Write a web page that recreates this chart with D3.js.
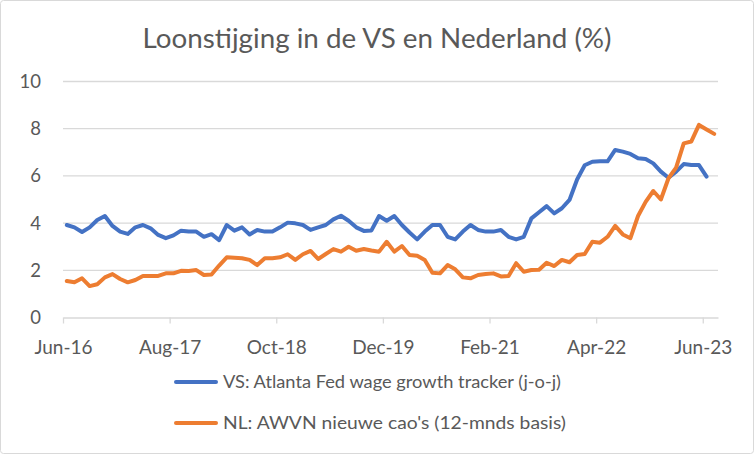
<!DOCTYPE html>
<html><head><meta charset="utf-8">
<script src="https://cdn.jsdelivr.net/npm/d3@7/dist/d3.min.js"></script>
<style>
html,body{margin:0;padding:0;background:#fff;}
svg{display:block;font-family:Lato,"Open Sans",sans-serif;}
</style></head>
<body>
<svg id="c" width="754" height="454"></svg>
<script>
// Months from Jun-16 (index 0)
const tickMonths = [0, 14, 28, 42, 56, 70, 84];
const tickLabels = ["Jun-16","Aug-17","Oct-18","Dec-19","Feb-21","Apr-22","Jun-23"];
const yTicks = [0, 2, 4, 6, 8, 10];

// VS: Atlanta Fed wage growth tracker (Jun-16 .. Jun-23)
const usWage = [3.92,3.82,3.62,3.82,4.13,4.30,3.88,3.64,3.54,3.82,3.92,3.78,3.50,3.36,3.48,3.68,3.64,3.64,3.42,3.53,
  3.28,3.92,3.68,3.82,3.52,3.71,3.64,3.64,3.82,4.02,3.99,3.92,3.71,3.82,3.92,4.16,4.31,4.10,3.82,3.67,
  3.69,4.30,4.10,4.30,3.92,3.60,3.31,3.64,3.92,3.92,3.42,3.31,3.64,3.92,3.71,3.64,3.64,3.71,3.42,3.31,
  3.42,4.20,4.46,4.72,4.41,4.63,4.98,5.85,6.45,6.60,6.62,6.62,7.10,7.03,6.93,6.75,6.72,6.53,6.18,5.92,
  6.18,6.50,6.46,6.46,5.97];
// NL: AWVN nieuwe cao's (Jun-16 .. Jul-23)
const nlWage = [1.55,1.49,1.66,1.33,1.41,1.70,1.84,1.63,1.49,1.59,1.76,1.76,1.76,1.87,1.87,1.98,1.97,2.01,1.80,1.82,
  2.20,2.55,2.53,2.51,2.44,2.22,2.51,2.51,2.55,2.68,2.44,2.68,2.82,2.48,2.69,2.90,2.79,3.00,2.83,2.90,
  2.84,2.79,3.21,2.79,3.03,2.65,2.62,2.44,1.90,1.87,2.22,2.04,1.70,1.66,1.80,1.84,1.87,1.74,1.76,2.30,
  1.94,2.01,2.02,2.32,2.18,2.44,2.34,2.65,2.69,3.21,3.17,3.42,3.88,3.52,3.36,4.30,4.90,5.36,5.00,5.90,
  6.35,7.38,7.46,8.16,7.97,7.78];

const seriesNames = ["VS: Atlanta Fed wage growth tracker (j-o-j)", "NL: AWVN nieuwe cao's (12-mnds basis)"];
const colors = ["#4472C4", "#ED7D31"];
const title = "Loonstijging in de VS en Nederland (%)";

const svg = d3.select("#c");
const W = 754, H = 454;
svg.append("rect").attr("x",0.5).attr("y",0.5).attr("width",W-1).attr("height",H-1)
  .attr("rx",3).attr("fill","#fff").attr("stroke","#d9d9d9");

const x = d3.scaleLinear().domain([0, 86]).range([63, 718]);
const y = d3.scaleLinear().domain([0, 10]).range([317.5, 81.5]);

// gridlines
svg.append("g").selectAll("line").data(yTicks.filter(d=>d>0)).join("line")
  .attr("x1", x(0)).attr("x2", x(86))
  .attr("y1", d=>y(d)).attr("y2", d=>y(d))
  .attr("stroke","#d9d9d9").attr("stroke-width",1.3);

// x axis
const xAxis = d3.axisBottom(x).tickValues(tickMonths).tickFormat((d,i)=>tickLabels[i]).tickSize(6).tickSizeOuter(0);
const gx = svg.append("g").attr("transform",`translate(0,${y(0)})`).call(xAxis);
gx.select(".domain").attr("stroke","#d9d9d9").attr("stroke-width",1.3);
gx.selectAll(".tick line").attr("stroke","#d9d9d9").attr("stroke-width",1.3);
gx.selectAll(".tick text").attr("fill","#595959").attr("font-size","19px")
  .attr("font-family","Lato,sans-serif").attr("y",17).attr("dy","1em");

// y axis labels
const yAxis = d3.axisLeft(y).tickValues(yTicks).tickSize(0).tickPadding(0);
const gy = svg.append("g").attr("transform",`translate(41,0)`).call(yAxis);
gy.select(".domain").remove();
gy.selectAll(".tick text").attr("fill","#595959").attr("font-size","18.5px")
  .attr("font-family","Lato,sans-serif");

// lines
const line = d3.line().x((d,i)=>x(i+0.5)).y(d=>y(d)).curve(d3.curveLinear);
[usWage, nlWage].forEach((s,k)=>{
  svg.append("path").datum(s).attr("d", line).attr("fill","none")
    .attr("stroke", colors[k]).attr("stroke-width",4).attr("stroke-linejoin","round").attr("stroke-linecap","round");
});

// title
svg.append("text").attr("x", 377).attr("y", 48).attr("text-anchor","middle")
  .attr("fill","#595959").attr("font-size","27px").attr("textLength",469).attr("lengthAdjust","spacingAndGlyphs").text(title);

// legend
const legY = [382, 423];
const legLen = [338, 343];
seriesNames.forEach((n,k)=>{
  svg.append("line").attr("x1",176).attr("x2",216).attr("y1",legY[k]).attr("y2",legY[k])
    .attr("stroke",colors[k]).attr("stroke-width",4).attr("stroke-linecap","round");
  svg.append("text").attr("x",223).attr("y",legY[k]+6).attr("fill","#595959")
    .attr("font-size","18px").attr("textLength",legLen[k]).attr("lengthAdjust","spacingAndGlyphs").text(n);
});
</script>
</body></html>
